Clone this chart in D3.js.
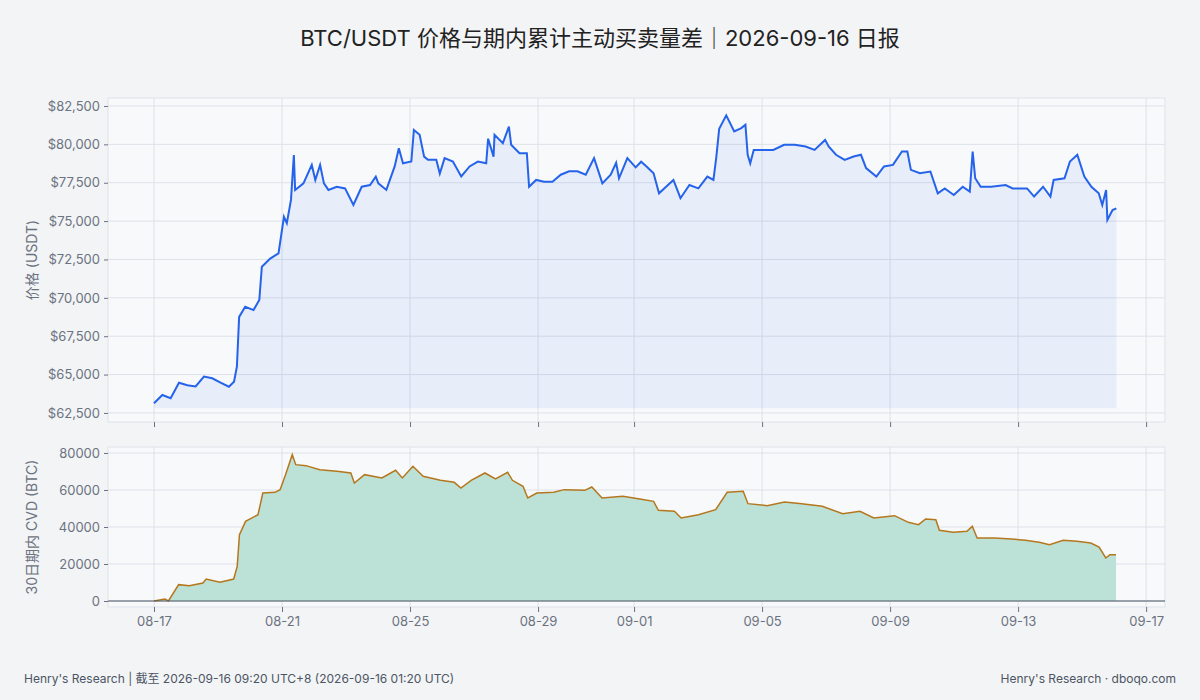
<!DOCTYPE html>
<meta charset="utf-8">
<head>
<script src="https://d3js.org/d3.v7.min.js"></script>
</head>
<style>
body { margin: 0; background: #f3f4f6; font-family: Inter, "Noto Sans CJK SC", sans-serif; }
.axis text { fill: #6b7280; font-size: 13px; font-family: Inter, "Noto Sans CJK SC", sans-serif; }
.axis path { display: none; }
.axis line { stroke: #6b7280; }
</style>
<body>
<svg></svg>
<script>
// days since 2026-08-17 00:00 UTC
let priceDays = [0,0.26,0.52,0.78,1.04,1.30,1.56,1.82,2.08,2.34,2.50,2.59,2.66,2.85,3.11,3.29,3.37,3.63,3.89,4.06,4.15,4.28,4.37,4.41,4.67,4.93,5.04,5.19,5.31,5.45,5.71,5.97,6.23,6.49,6.75,6.93,7.01,7.26,7.52,7.65,7.78,8.04,8.12,8.30,8.44,8.56,8.82,8.93,9.08,9.34,9.60,9.86,10.12,10.38,10.44,10.61,10.64,10.90,11.09,11.16,11.42,11.65,11.72,11.94,12.19,12.45,12.71,12.97,13.23,13.49,13.75,14.01,14.27,14.44,14.53,14.79,15.05,15.22,15.39,15.61,15.78,16.00,16.23,16.45,16.73,17.01,17.29,17.48,17.57,17.66,17.88,18.13,18.35,18.48,18.55,18.63,18.74,19.02,19.35,19.69,20.02,20.36,20.64,20.97,21.08,21.31,21.58,21.86,22.09,22.25,22.57,22.81,23.09,23.37,23.54,23.65,23.93,24.26,24.49,24.71,24.99,25.27,25.49,25.58,25.66,25.83,26.16,26.61,26.83,27.28,27.50,27.78,28.01,28.11,28.45,28.62,28.85,29.07,29.29,29.52,29.63,29.75,29.79,29.95,30.07];
let priceValues = [63130,63670,63460,64470,64300,64230,64870,64760,64470,64210,64540,65520,68760,69420,69200,69860,72030,72560,72900,75280,74860,76380,79300,77030,77460,78660,77680,78660,77460,77030,77240,77130,76050,77240,77350,77900,77460,77030,78560,79740,78770,78880,80940,80620,79200,78990,78990,78100,79100,78880,77910,78560,78880,78770,80370,79200,80620,80080,81150,79970,79420,79420,77240,77680,77570,77570,78020,78240,78240,78020,79100,77460,78020,78800,77790,79100,78500,78870,78560,78110,76810,77240,77680,76490,77350,77130,77900,77680,79170,81020,81890,80840,81060,81280,79320,78770,79640,79640,79640,79970,79970,79860,79640,80290,79860,79320,78990,79210,79320,78450,77900,78560,78660,79530,79530,78340,78120,78230,76810,77130,76700,77240,76920,79530,77790,77240,77240,77350,77130,77130,76600,77240,76600,77680,77790,78880,79320,77900,77240,76810,76050,77030,75070,75720,75830];

let cvdDays = [0,0.34,0.45,0.77,1.10,1.53,1.63,2.06,2.49,2.60,2.67,2.86,3.25,3.40,3.78,3.94,4.11,4.32,4.43,4.75,5.18,5.72,6.15,6.26,6.58,7.12,7.55,7.76,8.09,8.41,8.95,9.38,9.59,9.91,10.34,10.67,11.05,11.20,11.53,11.68,11.96,12.49,12.82,13.46,13.68,14.00,14.65,15.18,15.61,15.76,16.26,16.47,17.01,17.55,17.91,18.41,18.56,19.16,19.70,20.24,20.88,21.52,22.06,22.49,23.14,23.57,23.89,24.11,24.43,24.54,24.97,25.40,25.57,25.72,26.26,26.80,27.23,27.66,27.98,28.41,28.84,29.27,29.53,29.74,29.87,30.06];
let cvdValues = [0,1080,0,8830,8290,9730,11890,10090,11890,18740,35860,43070,46670,58390,58750,60190,68300,79110,73700,73160,71000,70100,69200,63790,68300,66490,70640,66490,72800,67390,65230,64150,61090,65230,69200,65950,69560,65230,61990,55680,58390,58750,60190,59830,61630,55680,56580,55140,53880,49010,48470,44870,46670,49370,58750,59290,52620,51540,53520,52620,51180,47210,48470,44870,46130,42530,41270,44330,43970,38200,37120,37660,40360,34060,34060,33520,32800,31720,30450,32800,32260,31360,29190,23250,25050,25050];

let priceTicks = [62500,65000,67500,70000,72500,75000,77500,80000,82500];
let cvdTicks = [0,20000,40000,60000,80000];

const DAY = 86400000;
const t0 = Date.UTC(2026, 7, 17);
const toDate = d => new Date(t0 + d * DAY);
let price = priceDays.map((d, i) => ({t: toDate(d), v: priceValues[i]}));
let cvd = cvdDays.map((d, i) => ({t: toDate(d), v: cvdValues[i]}));

let W = 1200, H = 700;
let left = 108, right = 1165;
let top1 = 98, bot1 = 422, top2 = 447, bot2 = 607;

let svg = d3.select("svg").attr("width", W).attr("height", H);

let x = d3.scaleUtc()
  .domain([toDate(-1.4375), toDate(31.59)])
  .range([left, right]);
let xTicks = x.ticks(d3.utcDay.every(4));

let y1 = d3.scaleLinear().domain([61910, 83020]).range([bot1, top1]);
let y2 = d3.scaleLinear().domain([0, 83240]).range([bot2 - 6, top2]);

svg.append("text").attr("x", W / 2).attr("y", 46).attr("text-anchor", "middle")
  .attr("font-size", 22).attr("fill", "#222").text("BTC/USDT 价格与期内累计主动买卖量差｜2026-09-16 日报");

function panel(y, yTop, yBot, ticks, fmt) {
  svg.append("rect").attr("x", left).attr("y", yTop).attr("width", right - left).attr("height", yBot - yTop)
    .attr("fill", "#f8f9fb").attr("stroke", "#dde1e8");
  let g = svg.append("g");
  g.selectAll(".hg").data(ticks).join("line")
    .attr("x1", left).attr("x2", right).attr("y1", d => y(d)).attr("y2", d => y(d))
    .attr("stroke", "#dde1e8");
  g.selectAll(".vg").data(xTicks).join("line")
    .attr("y1", yTop).attr("y2", yBot).attr("x1", d => x(d)).attr("x2", d => x(d))
    .attr("stroke", "#dde1e8");
  svg.append("g").attr("class", "axis").attr("transform", `translate(${left},0)`)
    .call(d3.axisLeft(y).tickValues(ticks).tickSize(4).tickPadding(4).tickFormat(fmt));
}

panel(y1, top1, bot1, priceTicks, d => "$" + d3.format(",")(d));
panel(y2, top2, bot2, cvdTicks, d3.format("d"));

// price
let pBase = d3.min(priceValues) - 330;
svg.append("path").datum(price)
  .attr("d", d3.area().x(d => x(d.t)).y0(y1(pBase)).y1(d => y1(d.v)))
  .attr("fill", "#2563eb").attr("fill-opacity", 0.08);
svg.append("path").datum(price)
  .attr("d", d3.line().x(d => x(d.t)).y(d => y1(d.v)))
  .attr("fill", "none").attr("stroke", "#2563eb").attr("stroke-width", 2);

// cvd
svg.append("path").datum(cvd)
  .attr("d", d3.area().x(d => x(d.t)).y0(y2(0)).y1(d => y2(d.v)))
  .attr("fill", "#bce2d7");
svg.append("path").datum(cvd)
  .attr("d", d3.line().x(d => x(d.t)).y(d => y2(d.v)))
  .attr("fill", "none").attr("stroke", "#b5771d").attr("stroke-width", 1.5);
svg.append("line").attr("x1", left).attr("x2", right).attr("y1", y2(0)).attr("y2", y2(0))
  .attr("stroke", "#4b5563").attr("stroke-width", 1.2);

// x axes
svg.append("g").attr("class", "axis").attr("transform", `translate(0,${bot1})`)
  .call(d3.axisBottom(x).tickValues(xTicks).tickSize(5).tickFormat(""));
svg.append("g").attr("class", "axis").attr("transform", `translate(0,${bot2})`)
  .call(d3.axisBottom(x).tickValues(xTicks).tickSize(5).tickPadding(5).tickFormat(d3.utcFormat("%m-%d")));

// axis titles
svg.append("text").attr("transform", `translate(37,${(top1 + bot1) / 2}) rotate(-90)`)
  .attr("text-anchor", "middle").attr("font-size", 14).attr("fill", "#6b7280").text("价格 (USDT)");
svg.append("text").attr("transform", `translate(37,${(top2 + bot2) / 2}) rotate(-90)`)
  .attr("text-anchor", "middle").attr("font-size", 14).attr("fill", "#6b7280").text("30日期内 CVD (BTC)");

// footer
svg.append("text").attr("x", 24).attr("y", 683).attr("font-size", 12).attr("fill", "#4b5563")
  .text("Henry's Research | 截至 2026-09-16 09:20 UTC+8 (2026-09-16 01:20 UTC)");
svg.append("text").attr("x", 1176).attr("y", 683).attr("text-anchor", "end").attr("font-size", 12).attr("fill", "#4b5563")
  .text("Henry's Research · dboqo.com");
</script>
</body>
